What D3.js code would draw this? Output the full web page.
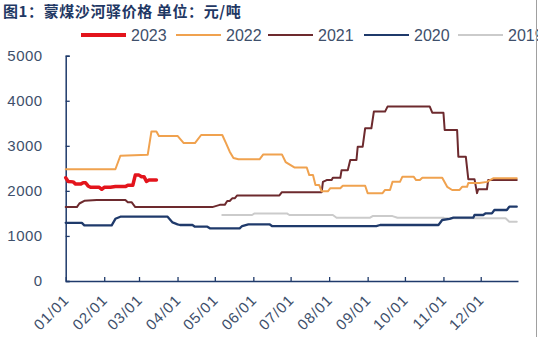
<!DOCTYPE html>
<html><head><meta charset="utf-8">
<script src="https://cdn.jsdelivr.net/npm/d3@7"></script>
<style>
body{margin:0;background:#fff;}
svg{display:block;font-family:Arial,"Liberation Sans",sans-serif;}
</style></head>
<body><svg id="c" width="538" height="337"></svg>
<script>
const titleText = "图1：蒙煤沙河驿价格 单位：元/吨";
const seriesNames = ["2023","2022","2021","2020","2019"];
const yTicks = [0,1000,2000,3000,4000,5000];
const monthLabels = ["01/01","02/01","03/01","04/01","05/01","06/01","07/01","08/01","09/01","10/01","11/01","12/01"];

const dates2023 = ["01/01","01/03","01/07","01/09","01/13","01/15","01/17","01/19","01/21","01/28","01/30","02/01","02/06","02/10","02/18","02/20","02/24","02/26","03/01","03/03","03/05","03/07","03/09","03/15"];
const price2023 = [2290,2210,2200,2150,2150,2180,2180,2110,2080,2080,2035,2080,2080,2095,2095,2125,2125,2350,2350,2315,2315,2210,2240,2240];

const dates2022 = ["01/01","02/10","02/14","03/08","03/11","03/15","03/17","04/01","04/06","04/15","04/20","05/07","05/10","05/13","05/16","05/20","06/06","06/09","06/24","06/27","07/01","07/04","07/14","07/16","07/19","07/21","07/24","07/26","07/31","08/02","08/10","08/12","08/30","09/01","09/13","09/15","09/19","09/21","09/27","09/29","10/08","10/10","10/13","10/15","10/31","11/04","11/08","11/14","11/16","11/20","11/21","11/30","12/06","12/11","12/30"];
const price2022 = [2480,2480,2780,2800,3320,3320,3220,3220,3060,3060,3240,3240,3060,2870,2730,2700,2700,2810,2810,2640,2570,2520,2520,2350,2350,2130,2130,1990,1990,2060,2060,2115,2115,1950,1950,2020,2020,2200,2200,2315,2315,2240,2240,2290,2290,2090,2020,2020,2090,2090,2175,2175,2200,2280,2280];

const dates2021 = ["01/01","01/10","01/12","01/16","01/26","02/18","02/20","02/23","02/26","04/29","05/05","05/09","05/11","05/13","05/15","05/17","05/19","06/22","06/24","07/26","07/27","07/30","08/03","08/04","08/10","08/11","08/16","08/18","08/23","08/24","08/28","08/30","09/04","09/06","09/15","09/17","10/21","10/23","11/01","11/02","11/12","11/13","11/19","11/21","11/26","11/28","11/29","12/06","12/07","12/30"];
const price2021 = [1640,1640,1720,1780,1800,1800,1750,1750,1640,1640,1690,1690,1775,1775,1835,1835,1900,1900,1970,1970,2200,2240,2240,2290,2290,2460,2460,2685,2685,2980,2980,3390,3390,3760,3760,3870,3870,3735,3735,3350,3350,2760,2760,2260,2260,1950,2035,2035,2240,2240];

const dates2020 = ["01/01","01/14","01/16","02/07","02/10","02/14","03/24","03/28","04/01","04/03","04/13","04/15","04/25","04/27","05/21","05/23","05/28","06/14","06/16","09/08","09/11","10/28","10/31","11/06","11/09","11/25","11/26","12/03","12/05","12/10","12/12","12/22","12/24","12/30"];
const price2020 = [1290,1290,1235,1235,1380,1427,1427,1300,1258,1243,1243,1205,1205,1169,1169,1220,1258,1258,1220,1220,1243,1243,1354,1380,1405,1405,1465,1465,1502,1502,1576,1576,1649,1649];

const dates2019 = ["05/07","05/31","06/02","06/28","06/30","08/04","08/07","09/03","09/05","09/21","09/25","11/01","11/02","12/21","12/24","12/30"];
const price2019 = [1465,1465,1500,1500,1465,1465,1405,1405,1440,1440,1405,1405,1390,1390,1316,1316];

const colors = {"2023":"#e3141c","2022":"#f0a24f","2021":"#6d2a2e","2020":"#1f3a6b","2019":"#cbcbcb"};
const widths = {"2023":3.5,"2022":2,"2021":2,"2020":2.3,"2019":2};

const parse = s => d3.timeParse("%Y/%m/%d")("2023/" + s);
const svg = d3.select("#c");

const x = d3.scaleTime().domain([parse("01/01"), parse("12/31")]).range([65.7, 518]);
const y = d3.scaleLinear().domain([0,5000]).range([281, 55.7]);

const axisColor = "#1f3a6b";
const labelColor = "#3e4f6b";

// title
svg.append("text").attr("x",3).attr("y",17).attr("font-size",15).attr("font-weight","bold")
  .attr("letter-spacing",0.6)
  .attr("fill","#1f3864").attr("font-family","'Noto Sans CJK SC',sans-serif").text(titleText);

// y axis
const yAxis = svg.append("g").attr("transform","translate(65.7,0)")
  .call(d3.axisLeft(y).tickValues(yTicks).tickSize(-4).tickPadding(23).tickFormat(d3.format("d")));
yAxis.select(".domain").attr("stroke",axisColor).attr("stroke-width",1.5);
yAxis.selectAll(".tick line").attr("stroke",axisColor).attr("stroke-width",1.3);
yAxis.selectAll(".tick text").attr("font-size",15).attr("fill",labelColor).attr("font-family","Arial,'Liberation Sans',sans-serif").attr("letter-spacing",0.5);

// x axis
const monthDates = monthLabels.map(parse);
const xAxis = svg.append("g").attr("transform","translate(0,281)")
  .call(d3.axisBottom(x).tickValues(monthDates).tickSize(-4).tickFormat((d,i)=>monthLabels[i]).tickSizeOuter(0));
xAxis.select(".domain").attr("stroke",axisColor).attr("stroke-width",1.5);
xAxis.selectAll(".tick line").attr("stroke",axisColor).attr("stroke-width",1.3);
xAxis.selectAll(".tick text")
  .attr("font-size",15).attr("fill",labelColor).attr("font-family","Arial,'Liberation Sans',sans-serif")
  .attr("letter-spacing",1)
  .attr("text-anchor","end").attr("dy",null).attr("y",null)
  .attr("transform","translate(4,20) rotate(-45)");

// lines
const seriesData = {
  "2019": dates2019.map((d,i)=>({date:parse(d), v:price2019[i]})),
  "2020": dates2020.map((d,i)=>({date:parse(d), v:price2020[i]})),
  "2021": dates2021.map((d,i)=>({date:parse(d), v:price2021[i]})),
  "2022": dates2022.map((d,i)=>({date:parse(d), v:price2022[i]})),
  "2023": dates2023.map((d,i)=>({date:parse(d), v:price2023[i]}))
};
const line = d3.line().x(d=>x(d.date)).y(d=>y(d.v));
["2019","2020","2021","2022","2023"].forEach(k=>{
  svg.append("path").datum(seriesData[k]).attr("d",line)
    .attr("fill","none").attr("stroke",colors[k]).attr("stroke-width",widths[k])
    .attr("stroke-linejoin","round").attr("stroke-linecap","round");
});

// legend
const legX = [81,176,268,364,458];
seriesNames.forEach((k,i)=>{
  const g = svg.append("g");
  g.append("line").attr("x1",legX[i]).attr("x2",legX[i]+45).attr("y1",35).attr("y2",35)
    .attr("stroke",colors[k]).attr("stroke-width",k==="2023"?4:2);
  g.append("text").attr("x",legX[i]+50).attr("y",41).attr("font-size",16)
    .attr("fill",labelColor).attr("font-family","Arial,'Liberation Sans',sans-serif").text(k);
});

// right frame edge
svg.append("line").attr("x1",536.5).attr("x2",536.5).attr("y1",0).attr("y2",337)
  .attr("stroke","#a0a0a0").attr("stroke-width",1);
</script></body></html>
